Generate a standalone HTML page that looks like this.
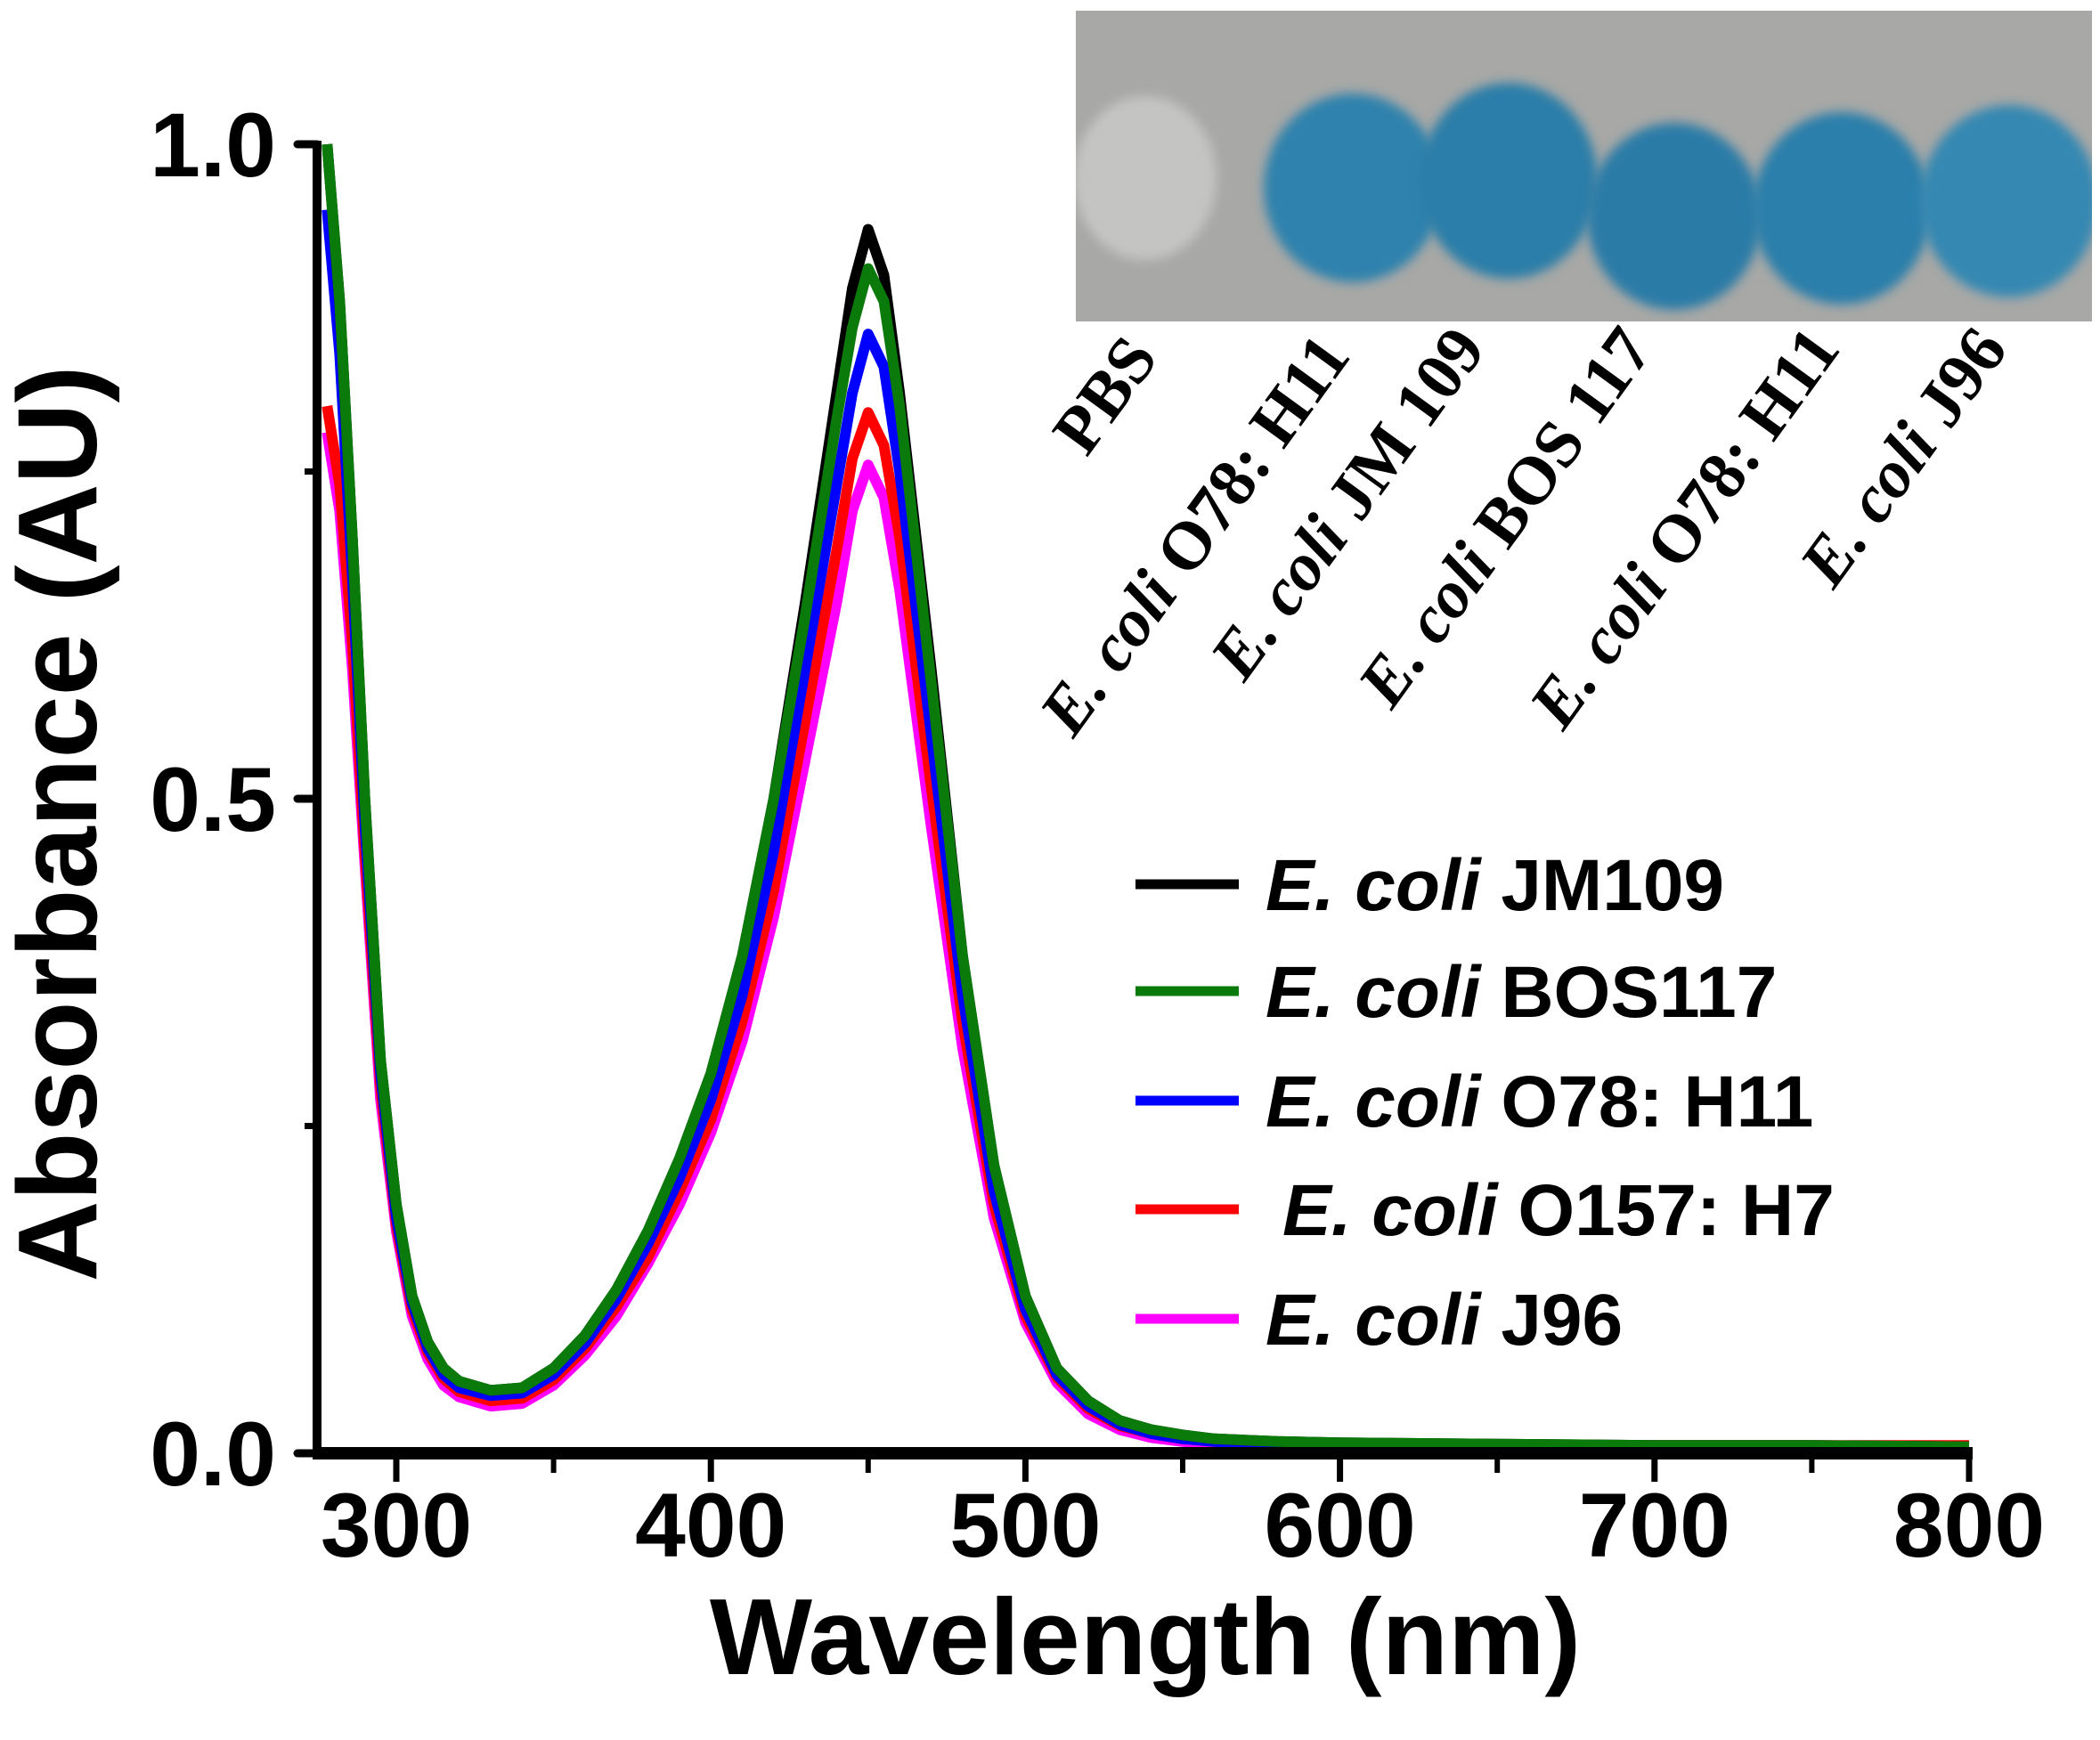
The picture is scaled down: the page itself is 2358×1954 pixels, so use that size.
<!DOCTYPE html>
<html><head><meta charset="utf-8"><style>
html,body{margin:0;padding:0;background:#fff;}
svg{display:block;}
</style></head><body>
<svg id="chart" width="2358" height="1954" viewBox="0 0 2358 1954" xmlns="http://www.w3.org/2000/svg">
<defs>
<filter id="blur" x="-20%" y="-20%" width="140%" height="140%"><feGaussianBlur stdDeviation="6"/></filter>
<clipPath id="photoClip"><rect x="1208" y="12" width="1141" height="349"/></clipPath>
</defs>
<g id="photo" clip-path="url(#photoClip)">
<rect x="1208" y="12" width="1141" height="349" fill="#a8a8a6"/>
<ellipse cx="1286" cy="200" rx="80" ry="92" fill="#c4c4c2" filter="url(#blur)"/>
<ellipse cx="1519" cy="211" rx="100" ry="106" fill="#2f82ad" filter="url(#blur)"/>
<ellipse cx="1694" cy="203" rx="100" ry="110" fill="#2c7ea9" filter="url(#blur)"/>
<ellipse cx="1880" cy="243" rx="98" ry="105" fill="#2a7ba7" filter="url(#blur)"/>
<ellipse cx="2068" cy="234" rx="100" ry="108" fill="#2c7fab" filter="url(#blur)"/>
<ellipse cx="2256" cy="226" rx="100" ry="108" fill="#3488b2" filter="url(#blur)"/>
</g>
<g font-family="'Liberation Serif', serif" font-weight="bold" font-size="76" fill="#000">
<text transform="translate(1302,402) rotate(-54)" text-anchor="end">PBS</text>
<text transform="translate(1518,400) rotate(-54)" text-anchor="end"><tspan font-style="italic">E. coli</tspan> O78: H11</text>
<text transform="translate(1670,392) rotate(-54)" text-anchor="end"><tspan font-style="italic">E. coli</tspan> JM 109</text>
<text transform="translate(1858,392) rotate(-54)" text-anchor="end"><tspan font-style="italic">E. coli</tspan> BOS 117</text>
<text transform="translate(2068,392) rotate(-54)" text-anchor="end"><tspan font-style="italic">E. coli</tspan> O78: H11</text>
<text transform="translate(2256,392) rotate(-54)" text-anchor="end"><tspan font-style="italic">E. coli</tspan> J96</text>
</g>
<g id="plot"></g>
</svg>
<script>
const wavelengths = [278,282,286,290,295,300,305,310,315,320,330,340,350,360,370,380,390,400,410,420,430,440,445,450,455,460,470,480,490,500,510,520,530,540,550,560,580,600,650,700,750,800];
const seriesNames = ["E. coli JM109","E. coli BOS117","E. coli O78: H11","E. coli O157: H7","E. coli J96"];
const seriesColors = ["#000000","#0a7a0a","#0000ff","#ff0000","#ff00ff"];
const absJM109  = [1.00,0.88,0.70,0.50,0.30,0.19,0.12,0.085,0.065,0.055,0.048,0.050,0.065,0.090,0.125,0.17,0.225,0.29,0.38,0.50,0.65,0.81,0.89,0.935,0.90,0.81,0.60,0.38,0.22,0.12,0.065,0.040,0.025,0.018,0.014,0.011,0.009,0.008,0.007,0.006,0.006,0.005];
const absBOS117 = [1.00,0.88,0.70,0.50,0.30,0.19,0.12,0.085,0.065,0.055,0.048,0.050,0.065,0.090,0.125,0.17,0.225,0.29,0.38,0.50,0.64,0.79,0.86,0.905,0.88,0.80,0.59,0.38,0.22,0.12,0.065,0.040,0.025,0.018,0.014,0.011,0.009,0.008,0.007,0.006,0.006,0.005];
const absO78    = [0.95,0.84,0.67,0.48,0.29,0.18,0.115,0.08,0.060,0.050,0.044,0.046,0.060,0.084,0.118,0.16,0.21,0.27,0.35,0.46,0.60,0.74,0.81,0.855,0.83,0.75,0.55,0.35,0.20,0.11,0.060,0.036,0.022,0.015,0.011,0.009,0.007,0.006,0.005,0.004,0.004,0.004];
const absO157   = [0.80,0.74,0.62,0.46,0.28,0.175,0.11,0.077,0.057,0.047,0.040,0.042,0.056,0.080,0.112,0.15,0.20,0.255,0.33,0.43,0.56,0.69,0.76,0.795,0.77,0.70,0.51,0.33,0.19,0.105,0.058,0.034,0.021,0.015,0.011,0.009,0.008,0.007,0.006,0.006,0.006,0.006];
const absJ96    = [0.78,0.72,0.60,0.45,0.27,0.17,0.105,0.072,0.052,0.043,0.036,0.038,0.052,0.075,0.105,0.145,0.19,0.245,0.315,0.41,0.53,0.65,0.72,0.755,0.73,0.66,0.48,0.31,0.18,0.10,0.054,0.030,0.018,0.012,0.009,0.007,0.006,0.005,0.004,0.004,0.004,0.004];
const seriesValues = [absJM109, absBOS117, absO78, absO157, absJ96];
const drawOrder = [4,3,2,0,1];
const xTicks = [300,400,500,600,700,800];
const xMinorTicks = [350,450,550,650,750];
const yTicks = [0.0,0.5,1.0];
const yTickLabels = ["0.0","0.5","1.0"];
const yMinorTicks = [0.25,0.75];

const NS="http://www.w3.org/2000/svg";
const X0=356, XR=2211, Y0=1632, YT=162;
function xScale(w){return 445+(w-300)*(2211-445)/500;}
function yScale(a){return Y0-a*(Y0-YT);}
const plot=document.getElementById('plot');
function mk(tag,attrs,parent){const e=document.createElementNS(NS,tag);for(const k in attrs)e.setAttribute(k,attrs[k]);(parent||plot).appendChild(e);return e;}

drawOrder.forEach(i=>{
  const d=wavelengths.map((w,j)=>(j?'L':'M')+xScale(w).toFixed(1)+','+yScale(seriesValues[i][j]).toFixed(1)).join(' ');
  const p=mk('path',{d:d,fill:'none',stroke:seriesColors[i],'stroke-width':12,'stroke-linejoin':'round'});
  
  
});

const ya=mk('line',{x1:X0,y1:YT-4,x2:X0,y2:Y0+6,stroke:'#000','stroke-width':10});


const xa=mk('line',{x1:X0-5,y1:Y0,x2:XR+4,y2:Y0,stroke:'#000','stroke-width':14});



xTicks.forEach(t=>{
  const l=mk('line',{x1:xScale(t),y1:Y0,x2:xScale(t),y2:Y0+32,stroke:'#000','stroke-width':7});
  
  
  const tx=mk('text',{x:xScale(t),y:1748,'text-anchor':'middle','font-family':"'Liberation Sans', sans-serif",'font-weight':'bold','font-size':102});
  tx.textContent=t;
  
  
});
xMinorTicks.forEach(t=>{
  const l=mk('line',{x1:xScale(t),y1:Y0,x2:xScale(t),y2:Y0+22,stroke:'#000','stroke-width':6});
  
  
});
yTicks.forEach((t,i)=>{
  const l=mk('line',{x1:X0-22,y1:yScale(t),x2:X0,y2:yScale(t),stroke:'#000','stroke-width':9,'stroke-linecap':'round'});
  
  
  const tx=mk('text',{x:310,y:yScale(t)+36,'text-anchor':'end','font-family':"'Liberation Sans', sans-serif",'font-weight':'bold','font-size':102});
  tx.textContent=yTickLabels[i];
  
  
});
yMinorTicks.forEach(t=>{
  const l=mk('line',{x1:X0-14,y1:yScale(t),x2:X0,y2:yScale(t),stroke:'#000','stroke-width':7});
  
  
});

const xt=mk('text',{x:1286,y:1880,'text-anchor':'middle','font-family':"'Liberation Sans', sans-serif",'font-weight':'bold','font-size':122});
xt.textContent='Wavelength (nm)';


const yt=mk('text',{transform:'translate(108,925) rotate(-90)','text-anchor':'middle','font-family':"'Liberation Sans', sans-serif",'font-weight':'bold','font-size':126});
yt.textContent='Absorbance (AU)';



const legY=[993,1113,1236,1358,1481];
const legSuffix=["JM109","BOS117","O78: H11","O157: H7","J96"];
seriesNames.forEach((n,i)=>{
  const g=mk('g',{});
  
  
  mk('line',{x1:1275,y1:legY[i],x2:1391,y2:legY[i],stroke:seriesColors[i],'stroke-width':11},g);
  const tx=mk('text',{x:i===3?1440:1421,y:legY[i]+29,'font-family':"'Liberation Sans', sans-serif",'font-weight':'bold','font-size':82},g);
  const a=document.createElementNS(NS,'tspan');a.setAttribute('font-style','italic');a.textContent='E. coli ';tx.appendChild(a);
  const b=document.createElementNS(NS,'tspan');b.textContent=legSuffix[i];tx.appendChild(b);
});
</script>
</body></html>
